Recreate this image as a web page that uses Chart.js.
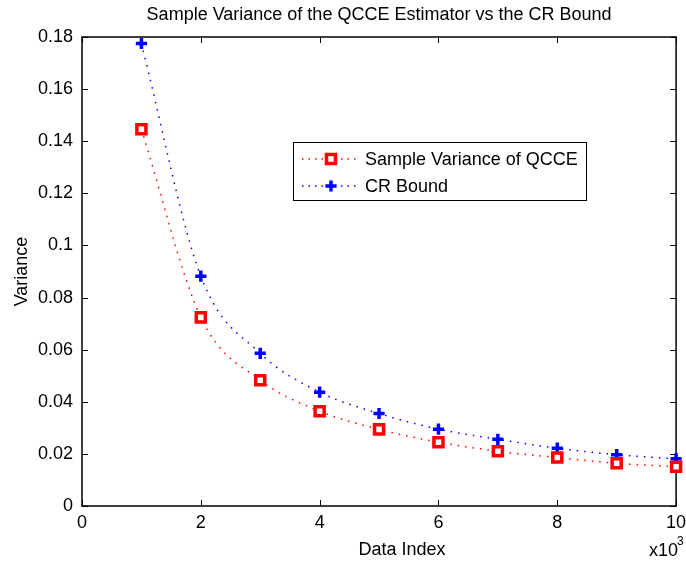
<!DOCTYPE html>
<html>
<head>
<meta charset="utf-8">
<script src="https://cdn.jsdelivr.net/npm/chart.js@4.4.1/dist/chart.umd.min.js"></script>
<style>
html,body{margin:0;padding:0;background:#fff;}
#wrap{width:686px;height:565px;}
</style>
</head>
<body>
<div id="wrap"><canvas id="varChart" width="686" height="565"></canvas></div>
<script>
// data
let dataIndex=[1000,2000,3000,4000,5000,6000,7000,8000,9000,10000];
let sampleVar=[0.1446,0.0724,0.0483,0.0364,0.0294,0.0245,0.0210,0.0186,0.0164,0.0151];
let crBound=[0.1775,0.0882,0.0586,0.0437,0.0355,0.0295,0.0256,0.0222,0.0197,0.0181];
let xTicks=[0,2000,4000,6000,8000,10000];
let yTicks=[0,0.02,0.04,0.06,0.08,0.1,0.12,0.14,0.16,0.18];

let titleText="Sample Variance of the QCCE Estimator vs the CR Bound";
let seriesNames=["Sample Variance of QCCE","CR Bound"];
let fontFam="'Liberation Sans', Arial, Helvetica, sans-serif";

function pts(ys){
return dataIndex.map((x,i)=>({x:x,y:ys[i]}));
}

let styleRed={pointStyle:"rect",radius:6.4,borderWidth:3.5,borderColor:"#ff0000",backgroundColor:"#ffffff"};
let styleBlue={pointStyle:"cross",radius:5.6,borderWidth:3.5,borderColor:"#0000ff",backgroundColor:"#0000ff"};

let matlabBox={
id:"matlabBox",
beforeDatasetsDraw(chart){
let ctx=chart.ctx;
let a=chart.chartArea;
let xs=chart.scales.x, ys=chart.scales.y;
ctx.save();
ctx.strokeStyle="#000";
ctx.lineWidth=1;
// tick marks inward on all four sides
xTicks.forEach(v=>{
let px=Math.round(xs.getPixelForValue(v))+0.5;
ctx.beginPath();
ctx.moveTo(px,a.bottom);ctx.lineTo(px,a.bottom-6);
ctx.moveTo(px,a.top);ctx.lineTo(px,a.top+6);
ctx.stroke();
});
yTicks.forEach(v=>{
let py=Math.round(ys.getPixelForValue(v))+0.5;
ctx.beginPath();
ctx.moveTo(a.left,py);ctx.lineTo(a.left+6,py);
ctx.moveTo(a.right,py);ctx.lineTo(a.right-6,py);
ctx.stroke();
});
ctx.lineWidth=1.5;
ctx.strokeRect(a.left,a.top,a.right-a.left,a.bottom-a.top);
ctx.restore();
},
afterDraw(chart){
let ctx=chart.ctx;
let a=chart.chartArea;
ctx.save();
ctx.fillStyle="#000";
ctx.textAlign="center";
ctx.textBaseline="middle";
ctx.font="18px "+fontFam;
ctx.fillText(titleText,(a.left+a.right)/2,15);
ctx.fillText("Data Index",402,550);
ctx.textAlign="left";
ctx.fillText("x10",649,551);
ctx.font="12px "+fontFam;
ctx.fillText("3",677,542);
// y title
ctx.font="18px "+fontFam;
ctx.translate(22,(a.top+a.bottom)/2);
ctx.rotate(-Math.PI/2);
ctx.textAlign="center";
ctx.fillText("Variance",0,0);
ctx.restore();

// legend box
ctx.save();
let bx=293,by=142,bw=293,bh=58;
ctx.fillStyle="#fff";
ctx.fillRect(bx,by,bw,bh);
ctx.strokeStyle="#000";
ctx.lineWidth=1;
ctx.strokeRect(bx+0.5,by+0.5,bw,bh);
chart.data.datasets.forEach((ds,i)=>{
let ry=by+17+i*27;
ctx.save();
ctx.strokeStyle=ds.borderColor;
ctx.lineWidth=1.5;
ctx.setLineDash([1.5,5]);
ctx.beginPath();
ctx.moveTo(302,ry);ctx.lineTo(356,ry);
ctx.stroke();
ctx.restore();
let st=i==0?styleRed:styleBlue;
ctx.save();
ctx.strokeStyle=st.borderColor;
ctx.fillStyle=st.backgroundColor;
ctx.lineWidth=st.borderWidth;
Chart.helpers.drawPoint(ctx,{pointStyle:st.pointStyle,radius:st.radius,borderWidth:st.borderWidth,rotation:0},331,ry);
ctx.restore();
ctx.fillStyle="#000";
ctx.font="18px "+fontFam;
ctx.textAlign="left";
ctx.textBaseline="middle";
ctx.fillText(ds.label,365,ry+1);
});
ctx.restore();
}
};

new Chart(document.getElementById("varChart"),{
type:"line",
data:{
datasets:[
{
label:seriesNames[0],
data:pts(sampleVar),
borderColor:"#ff0000",
borderWidth:1.5,
borderDash:[1.5,6],
fill:false,
cubicInterpolationMode:"monotone",
pointStyle:styleRed.pointStyle,
pointRadius:styleRed.radius,
pointBorderWidth:styleRed.borderWidth,
pointBorderColor:styleRed.borderColor,
pointBackgroundColor:styleRed.backgroundColor,
clip:false
},
{
label:seriesNames[1],
data:pts(crBound),
borderColor:"#0000ff",
borderWidth:1.5,
borderDash:[1.5,6],
fill:false,
cubicInterpolationMode:"monotone",
pointStyle:styleBlue.pointStyle,
pointRadius:styleBlue.radius,
pointBorderWidth:styleBlue.borderWidth,
pointBorderColor:styleBlue.borderColor,
pointBackgroundColor:styleBlue.backgroundColor,
clip:false
}
]
},
options:{
responsive:false,
animation:false,
events:[],
layout:{padding:{top:37,right:9,left:0,bottom:0}},
plugins:{legend:{display:false},title:{display:false},tooltip:{enabled:false}},
scales:{
x:{
type:"linear",
min:0,max:10000,
grid:{display:false,drawTicks:false,tickLength:0},
border:{display:false},
afterBuildTicks(s){s.ticks=xTicks.map(v=>({value:v}));},
afterFit(s){s.height=59;s.paddingLeft=0;s.paddingRight=0;},
ticks:{
color:"#000",
padding:6,
maxRotation:0,
autoSkip:false,
font:{family:fontFam,size:18},
callback:v=>String(v/1000)
}
},
y:{
min:0,max:0.18,
grid:{display:false,drawTicks:false,tickLength:0},
border:{display:false},
afterBuildTicks(s){s.ticks=yTicks.map(v=>({value:v}));},
afterFit(s){s.width=82;s.paddingTop=0;s.paddingBottom=0;},
ticks:{
color:"#000",
padding:9,
autoSkip:false,
font:{family:fontFam,size:18},
callback:v=>String(Number(v.toFixed(2)))
}
}
}
},
plugins:[matlabBox]
});
</script>
</body>
</html>
